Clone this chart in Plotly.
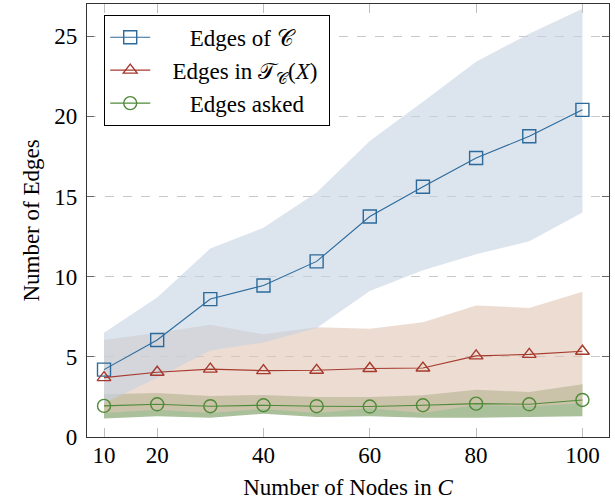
import plotly.graph_objects as go

nodes = [10, 20, 30, 40, 50, 60, 70, 80, 90, 100]

edges_c_mean = [4.2, 6.05, 8.6, 9.45, 10.95, 13.75, 15.6, 17.4, 18.75, 20.4]
edges_c_low = [2.1, 3.7, 5.4, 5.9, 6.8, 9.1, 10.4, 11.4, 12.2, 14.0]
edges_c_high = [6.5, 8.7, 11.75, 13.05, 15.25, 18.45, 20.9, 23.4, 25.15, 26.7]

edges_t_mean = [3.7, 4.04, 4.23, 4.14, 4.16, 4.27, 4.3, 5.06, 5.15, 5.35]
edges_t_low = [1.5, 1.7, 1.5, 1.75, 1.5, 1.8, 1.5, 2.0, 1.9, 2.1]
edges_t_high = [6.05, 6.5, 7.0, 6.4, 6.85, 6.75, 7.15, 8.2, 8.05, 9.05]

edges_a_mean = [1.94, 2.04, 1.92, 1.98, 1.92, 1.9, 1.98, 2.08, 2.04, 2.31]
edges_a_low = [1.15, 1.3, 1.2, 1.45, 1.25, 1.3, 1.2, 1.2, 1.25, 1.3]
edges_a_high = [2.67, 2.75, 2.56, 2.62, 2.5, 2.5, 2.6, 2.94, 2.81, 3.29]

x_ticks = [10, 20, 40, 60, 80, 100]
y_ticks = [0, 5, 10, 15, 20, 25]

FONT = "Liberation Serif"
FS = 23
BLUE = "#2b6a9b"
RED = "#a63a2e"
GREEN = "#4f8a38"

fig = go.Figure()

def band(low, high, color):
    fig.add_trace(go.Scatter(x=nodes, y=low, mode="lines", line=dict(width=0),
                             showlegend=False, hoverinfo="skip"))
    fig.add_trace(go.Scatter(x=nodes, y=high, mode="lines", line=dict(width=0),
                             fill="tonexty", fillcolor=color,
                             showlegend=False, hoverinfo="skip"))

band(edges_a_low, edges_a_high, "rgba(113,150,88,0.6)")
band(edges_t_low, edges_t_high, "rgba(223,197,180,0.6)")
band(edges_c_low, edges_c_high, "rgba(197,210,227,0.6)")

sp = "\u00a0"
fig.add_trace(go.Scatter(
    x=nodes, y=edges_c_mean, mode="lines+markers",
    name=sp * 6 + "Edges of 𝒞",
    line=dict(color=BLUE, width=1.1),
    marker=dict(symbol="square-open", size=13, color=BLUE, line=dict(width=1.4))))
fig.add_trace(go.Scatter(
    x=nodes, y=edges_t_mean, mode="lines+markers",
    name=sp * 3 + "Edges in 𝒯<sub>𝒞</sub>(<i>X</i>)" + sp,
    line=dict(color=RED, width=1.1),
    marker=dict(symbol="triangle-up-open", size=12, color=RED, line=dict(width=1.4))))
fig.add_trace(go.Scatter(
    x=nodes, y=edges_a_mean, mode="lines+markers",
    name=sp * 6 + "Edges asked",
    line=dict(color=GREEN, width=1.1),
    marker=dict(symbol="circle-open", size=13, color=GREEN, line=dict(width=1.4))))

fig.update_layout(
    width=615, height=501,
    margin=dict(l=87, r=6, t=4, b=64, autoexpand=False),
    paper_bgcolor="white", plot_bgcolor="white",
    font=dict(family=FONT, size=FS, color="black"),
    showlegend=True,
    legend=dict(x=0.033, y=0.975, xanchor="left", yanchor="top",
                traceorder="normal",
                bordercolor="black", borderwidth=1, bgcolor="white",
                font=dict(family=FONT, size=FS), itemwidth=40,
                tracegroupgap=0),
)

fig.update_xaxes(
    range=[6.8, 105], tickvals=x_ticks, ticktext=[str(v) for v in x_ticks],
    showgrid=False, zeroline=False, automargin=False,
    showline=True, linecolor="#333333", linewidth=1.3, mirror="allticks",
    ticks="inside", ticklen=9, tickcolor="#bdbdbd", tickwidth=1,
    tickfont=dict(family=FONT, size=FS), ticklabelstandoff=-3,
    title=dict(text="Number of Nodes in <i>C</i>", font=dict(family=FONT, size=FS), standoff=12),
)
fig.update_yaxes(
    range=[0, 27], tickvals=y_ticks, ticktext=[str(v) for v in y_ticks],
    showgrid=True, gridcolor="#c8c8c8", griddash="dash", gridwidth=1,
    zeroline=False, automargin=False,
    showline=True, linecolor="#333333", linewidth=1.3, mirror="allticks",
    ticks="inside", ticklen=7, tickcolor="#666666", tickwidth=1,
    tickfont=dict(family=FONT, size=FS), ticklabelstandoff=4,
    title=dict(text="Number of Edges", font=dict(family=FONT, size=FS), standoff=8),
)

fig.write_html("out.html", config={"displayModeBar": False},
               post_script="document.body.style.margin='0';document.body.style.overflow='hidden';")
